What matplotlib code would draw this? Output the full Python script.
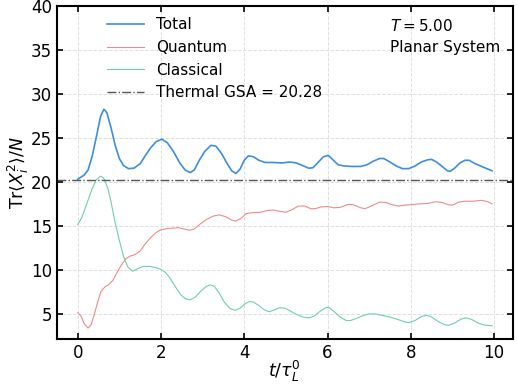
import numpy as np
import matplotlib.pyplot as plt

# Total
t_tot = [0.00, 0.15, 0.25, 0.35, 0.45, 0.55, 0.63, 0.70, 0.80, 0.90, 1.00, 1.10, 1.22, 1.35,
         1.50, 1.62, 1.75, 1.88, 2.02, 2.15, 2.30, 2.45, 2.58, 2.70, 2.80, 2.92, 3.05, 3.20,
         3.32, 3.45, 3.58, 3.70, 3.80, 3.90, 4.00, 4.10, 4.22, 4.35, 4.50, 4.70, 4.90, 5.10,
         5.25, 5.40, 5.55, 5.65, 5.78, 5.90, 6.02, 6.12, 6.25, 6.40, 6.60, 6.80, 6.95, 7.10,
         7.25, 7.35, 7.50, 7.65, 7.80, 7.95, 8.10, 8.25, 8.40, 8.50, 8.62, 8.75, 8.88, 8.95,
         9.05, 9.18, 9.30, 9.40, 9.55, 9.70, 9.85, 9.95]
total = [20.35, 20.8, 21.4, 23.0, 25.2, 27.5, 28.3, 27.9, 26.2, 24.2, 22.7, 21.9, 21.55, 21.6,
         22.1, 23.0, 23.9, 24.6, 24.9, 24.5, 23.5, 22.2, 21.4, 21.1, 21.4, 22.5, 23.5, 24.2,
         24.1, 23.3, 22.2, 21.3, 21.0, 21.5, 22.5, 23.0, 22.9, 22.5, 22.25, 22.25, 22.2, 22.3,
         22.2, 21.9, 21.6, 21.65, 22.3, 22.9, 23.05, 22.6, 22.0, 21.85, 21.8, 21.8, 22.0, 22.4,
         22.7, 22.7, 22.3, 21.85, 21.55, 21.55, 21.85, 22.3, 22.55, 22.6, 22.3, 21.8, 21.3, 21.25,
         21.6, 22.2, 22.5, 22.5, 22.1, 21.8, 21.5, 21.3]

# Quantum
t_qu = [0.00, 0.08, 0.16, 0.25, 0.32, 0.40, 0.48, 0.56, 0.65, 0.75, 0.85, 0.95, 1.05, 1.15,
        1.25, 1.38, 1.50, 1.62, 1.75, 1.88, 2.00, 2.15, 2.30, 2.42, 2.55, 2.68, 2.80, 2.95,
        3.10, 3.25, 3.40, 3.55, 3.70, 3.80, 3.92, 4.05, 4.20, 4.40, 4.55, 4.70, 4.85, 5.00,
        5.15, 5.30, 5.45, 5.60, 5.70, 5.85, 6.00, 6.15, 6.30, 6.50, 6.62, 6.80, 6.90, 7.05,
        7.25, 7.40, 7.55, 7.70, 7.85, 8.00, 8.20, 8.40, 8.60, 8.75, 8.90, 9.00, 9.15, 9.30,
        9.50, 9.70, 9.85, 9.95]
quantum = [5.2, 4.8, 3.9, 3.45, 3.8, 5.0, 6.4, 7.6, 8.1, 8.4, 8.9, 9.8, 10.6, 11.3,
           11.6, 11.8, 12.2, 13.0, 13.7, 14.3, 14.6, 14.75, 14.8, 14.85, 14.7, 14.55, 14.7, 15.3,
           15.8, 16.15, 16.3, 16.1, 15.7, 15.6, 15.9, 16.45, 16.55, 16.6, 16.8, 16.85, 16.7, 16.6,
           16.9, 17.3, 17.3, 17.0, 17.0, 17.2, 17.25, 17.1, 17.15, 17.5, 17.45, 17.1, 17.0, 17.3,
           17.75, 17.7, 17.45, 17.3, 17.4, 17.45, 17.55, 17.6, 17.8, 17.7, 17.45, 17.4, 17.75, 17.85,
           17.85, 17.95, 17.8, 17.55]

# Classical
t_cl = [0.00, 0.10, 0.22, 0.35, 0.45, 0.55, 0.62, 0.72, 0.80, 0.90, 1.00, 1.10, 1.20, 1.32,
        1.45, 1.58, 1.72, 1.85, 1.98, 2.10, 2.22, 2.35, 2.48, 2.60, 2.70, 2.82, 2.95, 3.08,
        3.18, 3.28, 3.40, 3.52, 3.65, 3.78, 3.90, 4.00, 4.12, 4.22, 4.35, 4.48, 4.60, 4.72,
        4.85, 4.98, 5.10, 5.25, 5.40, 5.55, 5.68, 5.82, 5.95, 6.03, 6.15, 6.30, 6.45, 6.55,
        6.70, 6.85, 7.00, 7.15, 7.30, 7.50, 7.70, 7.85, 7.95, 8.10, 8.25, 8.38, 8.50, 8.65,
        8.80, 8.90, 9.05, 9.20, 9.32, 9.45, 9.60, 9.75, 9.95]
classical = [15.2, 16.0, 17.6, 19.3, 20.3, 20.7, 20.5, 19.4, 17.8, 15.4, 13.4, 11.6, 10.4, 9.9,
             10.2, 10.45, 10.45, 10.35, 10.15, 9.8, 9.1, 8.1, 7.2, 6.75, 6.65, 6.95, 7.6, 8.15,
             8.35, 8.2, 7.4, 6.4, 5.7, 5.45, 5.7, 6.15, 6.45, 6.4, 6.0, 5.5, 5.3, 5.5,
             5.75, 5.7, 5.4, 5.0, 4.7, 4.6, 4.8, 5.35, 5.75, 5.8, 5.35, 4.7, 4.3, 4.3,
             4.55, 4.85, 5.05, 5.05, 4.9, 4.7, 4.4, 4.15, 4.05, 4.3, 4.75, 4.9, 4.7, 4.2,
             3.85, 3.75, 4.0, 4.45, 4.6, 4.45, 4.05, 3.8, 3.7]

gsa = 20.28
temperature = 5.00

fig = plt.figure(figsize=(5.17, 3.87), dpi=100)
ax = fig.add_axes([0.110, 0.124, 0.882, 0.860])

ax.plot(t_tot, total, color='#3d8ee0', lw=1.2, label='Total')
ax.plot(t_qu, quantum, color='#f08a8a', lw=0.8, label='Quantum')
ax.plot(t_cl, classical, color='#6fcfaa', lw=0.8, label='Classical')
ax.axhline(gsa, color='#555555', ls='-.', lw=1.0, label='Thermal GSA = %.2f' % gsa)

ax.set_ylim(2.2, 40)
ax.set_xlim(-0.5, 10.45)
ax.set_xticks([0, 2, 4, 6, 8, 10])
ax.set_yticks([5, 10, 15, 20, 25, 30, 35, 40])
ax.grid(True, ls='--', color='#e0e0e0', lw=0.7)
ax.tick_params(direction='in', top=True, right=True, labelsize=12, length=4, width=1.2)
for s in ax.spines.values():
    s.set_linewidth(1.5)

ax.set_xlabel(r'$t/\tau_L^0$', fontsize=12.5, labelpad=-2)
ax.set_ylabel(r'$\mathrm{Tr}\langle X_i^2\rangle/N$', fontsize=12.5, labelpad=0)

ax.legend(loc='upper left', bbox_to_anchor=(0.08, 1.008), frameon=False, fontsize=11,
          handlelength=2.4, labelspacing=0.5)
ax.text(0.73, 0.965, '$T = %.2f$\nPlanar System' % temperature, transform=ax.transAxes,
        fontsize=11, va='top', ha='left', linespacing=1.5)

fig.savefig('out.png', dpi=100)
